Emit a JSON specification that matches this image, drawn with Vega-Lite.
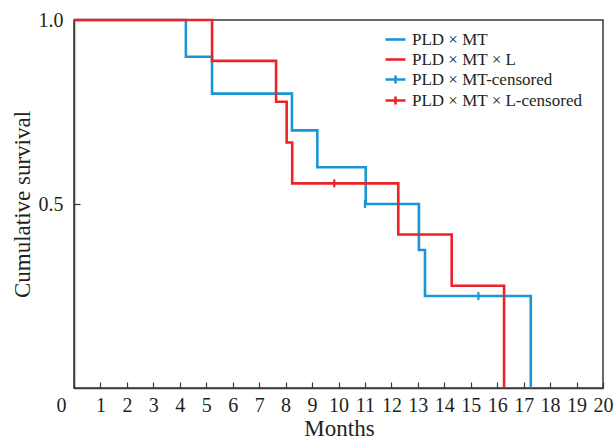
{
  "$schema": "https://vega.github.io/schema/vega-lite/v6.json",
  "width": 529,
  "height": 368,
  "autosize": "none",
  "padding": {"left": 74, "top": 20, "right": 13, "bottom": 51},
  "background": "white",
  "config": {
    "font": "Liberation Serif",
    "view": {"stroke": "#3a3a3a", "strokeWidth": 1.5},
    "axis": {
      "grid": false,
      "domainColor": "#3a3a3a",
      "domainWidth": 1.5,
      "tickColor": "#3a3a3a",
      "tickWidth": 1.2,
      "labelColor": "#231f20",
      "titleColor": "#231f20",
      "labelFont": "Liberation Serif",
      "labelFontSize": 20,
      "titleFont": "Liberation Serif",
      "titleFontWeight": "normal"
    },
    "legend": {"labelFont": "Liberation Serif"}
  },
  "datasets": {
    "curves": [
      {"series": "PLD × MT", "month": 0, "survival": 1.0},
      {"series": "PLD × MT", "month": 4.23, "survival": 0.9},
      {"series": "PLD × MT", "month": 5.22, "survival": 0.8},
      {"series": "PLD × MT", "month": 8.24, "survival": 0.7},
      {"series": "PLD × MT", "month": 9.2, "survival": 0.6},
      {"series": "PLD × MT", "month": 11.03, "survival": 0.5},
      {"series": "PLD × MT", "month": 13.04, "survival": 0.375},
      {"series": "PLD × MT", "month": 13.27, "survival": 0.25},
      {"series": "PLD × MT", "month": 17.27, "survival": 0},
      {"series": "PLD × MT × L", "month": 0, "survival": 1.0},
      {"series": "PLD × MT × L", "month": 5.22, "survival": 0.889},
      {"series": "PLD × MT × L", "month": 7.64, "survival": 0.778},
      {"series": "PLD × MT × L", "month": 8.04, "survival": 0.667},
      {"series": "PLD × MT × L", "month": 8.25, "survival": 0.556},
      {"series": "PLD × MT × L", "month": 12.26, "survival": 0.417},
      {"series": "PLD × MT × L", "month": 14.28, "survival": 0.278},
      {"series": "PLD × MT × L", "month": 16.26, "survival": 0}
    ],
    "censored": [
      {"series": "PLD × MT-censored", "month": 11.0, "survival": 0.5},
      {"series": "PLD × MT-censored", "month": 15.29, "survival": 0.25},
      {"series": "PLD × MT × L-censored", "month": 9.84, "survival": 0.556}
    ]
  },
  "encoding": {
    "x": {
      "field": "month",
      "type": "quantitative",
      "scale": {"domain": [0, 20], "nice": false, "zero": false},
      "axis": {
        "title": "Months",
        "values": [0, 1, 2, 3, 4, 5, 6, 7, 8, 9, 10, 11, 12, 13, 14, 15, 16, 17, 18, 19, 20],
        "format": "d",
        "labelFlush": false,
        "labelOverlap": false,
        "labelBaseline": "middle",
        "tickSize": -6,
        "labelPadding": 23,
        "labelOffset": {"condition": {"test": "datum.value == 0", "value": -13}, "value": 0},
        "titleFontSize": 23,
        "titleBaseline": "middle",
        "titleX": 265,
        "titleY": 40
      }
    },
    "y": {
      "field": "survival",
      "type": "quantitative",
      "scale": {"domain": [0, 1], "nice": false},
      "axis": {
        "title": "Cumulative survival",
        "values": [0.5, 1.0],
        "format": ".1f",
        "labelBaseline": "middle",
        "tickSize": -6,
        "labelPadding": 17,
        "titleFontSize": 23,
        "titleAngle": -90,
        "titleAlign": "center",
        "titleBaseline": "middle",
        "titleX": -52,
        "titleY": 184
      }
    },
    "color": {
      "field": "series",
      "type": "nominal",
      "scale": {
        "domain": ["PLD × MT", "PLD × MT × L", "PLD × MT-censored", "PLD × MT × L-censored"],
        "range": ["#1a96d4", "#ee2229", "#1a96d4", "#ee2229"]
      },
      "legend": {
        "title": null,
        "orient": "none",
        "legendX": 310,
        "legendY": 8,
        "padding": 0,
        "symbolType": "stroke",
        "symbolSize": 400,
        "symbolStrokeWidth": 2.6,
        "labelFontSize": 17,
        "labelLimit": 400,
        "labelColor": "#231f20",
        "labelOffset": 5,
        "rowPadding": 0,
        "encode": {
          "symbols": {
            "update": {
              "shape": {"signal": "indexof(datum.value, 'censored') >= 0 ? 'M-1,0H1M0,-0.4V0.4' : 'stroke'"},
              "stroke": {"scale": "color", "field": "value"},
              "fill": {"value": "transparent"},
              "strokeWidth": {"value": 2.6}
            }
          }
        }
      }
    }
  },
  "layer": [
    {
      "data": {"name": "curves"},
      "mark": {"type": "line", "interpolate": "step-after", "strokeWidth": 2.6},
      "encoding": {"detail": {"field": "series"}}
    },
    {
      "data": {"name": "censored"},
      "mark": {"type": "tick", "orient": "vertical", "size": 8, "thickness": 2.2, "opacity": 1},
      "encoding": {}
    }
  ]
}
